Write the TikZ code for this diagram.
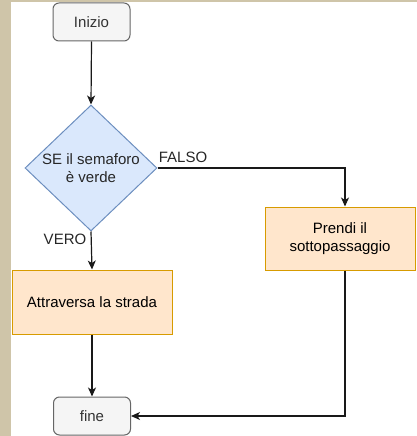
\documentclass[tikz,border=0pt]{standalone}
\usepackage{fontspec}
\setmainfont{Liberation Sans}
\usetikzlibrary{arrows.meta,shapes.geometric,calc}

\definecolor{sidebar}{HTML}{CFC5A9}
\definecolor{termfill}{HTML}{F5F5F5}
\definecolor{termline}{HTML}{666666}
\definecolor{termtext}{HTML}{333333}
\definecolor{decfill}{HTML}{DAE8FC}
\definecolor{decline}{HTML}{6C8EBF}
\definecolor{actfill}{HTML}{FFE6CC}
\definecolor{actline}{HTML}{D79B00}

\tikzset{
  every node/.style={font=\fontsize{15}{18}\selectfont, inner sep=0pt},
  termbox/.style={draw=termline, fill=termfill, text=termtext, rounded corners=6pt,
    line width=1pt, minimum width=77pt, minimum height=38pt},
  decbox/.style={draw=decline, fill=decfill, diamond, line width=1pt,
    minimum width=132pt, minimum height=126pt},
  actbox/.style={draw=actline, fill=actfill, line width=1pt, align=center},
  flow/.style={line width=1.2pt, draw=black!90,
    -{Stealth[length=9pt,width=8pt,inset=2.5pt]}},
  edgelabel/.style={text=black!85}
}

\begin{document}
\begin{tikzpicture}[x=1pt,y=-1pt]
\useasboundingbox (0,0) rectangle (417,436);
% page edge strips
\fill[sidebar] (0,0) rectangle (11,436);
\fill[sidebar] (0,0) rectangle (417,2);

% blocks
\node[termbox] (start) at (91.5,22) {Inizio};
\node[decbox] (cond) at (91,168) {};
\node[align=center, text=black!85] (condtext) at (cond.center) {SE il semaforo\\è verde};
\node[actbox, minimum width=160pt, minimum height=64pt] (cross) at (92,302) {Attraversa la strada};
\node[actbox, minimum width=150pt, minimum height=63pt] (under) at (340,238.5) {Prendi il\\sottopassaggio};
\node[termbox] (stop) at (92,416) {fine};

% connector anchors on the right branch
\coordinate (underin) at ($(under.north)+(5,0)$);
\coordinate (underout) at ($(under.south)+(5,0)$);

% connectors
\draw[flow] (start.south) -- (cond.north);
\draw[flow] (cond.south) -- (cross.north);
\draw[flow] (cond.east) -| (underin);
\draw[flow] (cross.south) -- (stop.north);
\draw[flow] (underout) |- (stop.east);

% branch labels
\node[edgelabel] (falso) at (183,157) {FALSO};
\node[edgelabel] (vero) at (65,239) {VERO};
\end{tikzpicture}
\end{document}
